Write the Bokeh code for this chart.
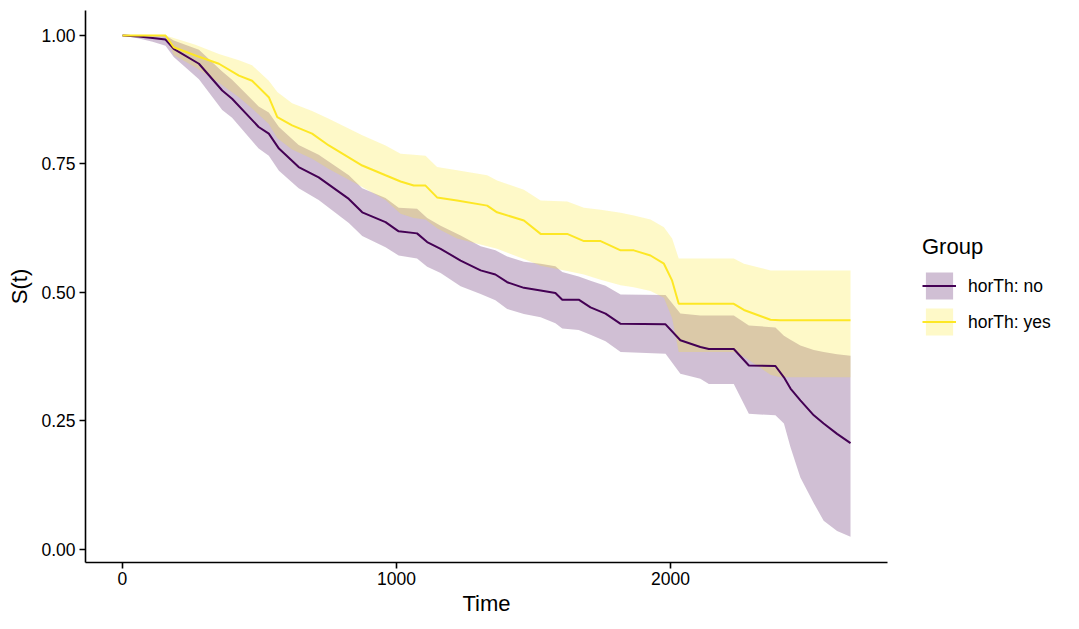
from bokeh.plotting import figure
from bokeh.models import Range1d, FixedTicker, Legend, LegendItem, NumeralTickFormatter
from bokeh.embed import file_html
from bokeh.resources import INLINE

# ---- data: group "horTh: no" ----
no_t = [0, 60, 110, 157, 187, 279, 364, 400, 497, 534, 571, 643, 716, 826, 875, 960, 1008,
        1075, 1112, 1161, 1234, 1307, 1361, 1404, 1465, 1526, 1580, 1605, 1665, 1708, 1763,
        1818, 1982, 2036, 2109, 2140, 2231, 2286, 2383, 2414, 2438, 2474, 2523, 2559, 2608, 2657]
no_s = [1.0, 0.998, 0.995, 0.992, 0.974, 0.945, 0.893, 0.877, 0.822, 0.809, 0.780, 0.744, 0.724,
        0.682, 0.656, 0.637, 0.619, 0.615, 0.598, 0.585, 0.562, 0.543, 0.535, 0.520, 0.509, 0.504,
        0.499, 0.486, 0.486, 0.471, 0.459, 0.439, 0.438, 0.407, 0.394, 0.390, 0.390, 0.358, 0.357,
        0.335, 0.313, 0.290, 0.261, 0.245, 0.225, 0.207]
no_lo = [1.0, 0.994, 0.988, 0.980, 0.958, 0.915, 0.855, 0.840, 0.780, 0.766, 0.737, 0.703, 0.680,
         0.635, 0.610, 0.588, 0.572, 0.566, 0.550, 0.538, 0.512, 0.497, 0.485, 0.468, 0.458, 0.452,
         0.440, 0.430, 0.427, 0.418, 0.405, 0.384, 0.381, 0.342, 0.332, 0.322, 0.322, 0.264, 0.261,
         0.245, 0.199, 0.140, 0.090, 0.056, 0.036, 0.025]
no_hi = [1.0, 1.0, 1.0, 1.0, 0.990, 0.972, 0.930, 0.914, 0.862, 0.850, 0.822, 0.787, 0.768,
         0.728, 0.703, 0.684, 0.665, 0.663, 0.645, 0.630, 0.611, 0.590, 0.582, 0.570, 0.560, 0.556,
         0.551, 0.540, 0.531, 0.523, 0.513, 0.496, 0.495, 0.459, 0.455, 0.455, 0.455, 0.436, 0.432,
         0.416, 0.408, 0.397, 0.388, 0.384, 0.380, 0.377]

# ---- data: group "horTh: yes" ----
yes_t = [0, 157, 187, 266, 352, 425, 473, 534, 565, 619, 692, 753, 875, 960, 1015, 1063, 1106,
         1148, 1221, 1331, 1367, 1465, 1526, 1623, 1684, 1745, 1818, 1866, 1927, 1976, 2006, 2030,
         2231, 2268, 2365, 2400, 2657]
yes_s = [1.0, 1.0, 0.977, 0.961, 0.945, 0.922, 0.912, 0.880, 0.841, 0.825, 0.809, 0.786, 0.747,
         0.728, 0.716, 0.708, 0.708, 0.685, 0.679, 0.669, 0.656, 0.640, 0.614, 0.614, 0.600, 0.600,
         0.582, 0.582, 0.572, 0.556, 0.523, 0.478, 0.478, 0.466, 0.447, 0.446, 0.446]
yes_lo = [1.0, 1.0, 0.962, 0.938, 0.908, 0.880, 0.858, 0.828, 0.800, 0.778, 0.760, 0.740, 0.705,
          0.680, 0.653, 0.645, 0.642, 0.625, 0.605, 0.590, 0.585, 0.565, 0.552, 0.542, 0.535, 0.525,
          0.514, 0.510, 0.503, 0.490, 0.450, 0.384, 0.384, 0.375, 0.340, 0.335, 0.335]
yes_hi = [1.0, 1.0, 0.995, 0.982, 0.964, 0.952, 0.942, 0.912, 0.890, 0.868, 0.853, 0.838, 0.806,
          0.786, 0.770, 0.768, 0.766, 0.744, 0.738, 0.728, 0.718, 0.700, 0.679, 0.677, 0.665, 0.661,
          0.655, 0.650, 0.642, 0.627, 0.605, 0.566, 0.566, 0.556, 0.543, 0.543, 0.543]

x_ticks = [0, 1000, 2000]
y_ticks = [0.0, 0.25, 0.5, 0.75, 1.0]
labels = ["horTh: no", "horTh: yes"]
colors = ["#440154", "#FDE725"]

FONT = "Liberation Sans"

p = figure(frame_width=802, frame_height=552, output_backend="svg", toolbar_location=None,
           x_range=Range1d(-135, 2792), y_range=Range1d(-0.0253, 1.0486),
           min_border_left=85, min_border_right=10, min_border_top=10, min_border_bottom=59)

p.xgrid.visible = False
p.ygrid.visible = False
p.outline_line_color = None
p.background_fill_color = "white"
p.border_fill_color = "white"

va_no = p.varea(x=no_t, y1=no_lo, y2=no_hi, fill_color=colors[0], fill_alpha=0.25)
va_yes = p.varea(x=yes_t, y1=yes_lo, y2=yes_hi, fill_color=colors[1], fill_alpha=0.25)
ln_no = p.line(x=no_t, y=no_s, line_color=colors[0], line_width=2)
ln_yes = p.line(x=yes_t, y=yes_s, line_color=colors[1], line_width=2)

for ax in (p.xaxis[0], p.yaxis[0]):
    ax.axis_line_color = "black"
    ax.axis_line_width = 1.6
    ax.major_tick_line_color = "black"
    ax.major_tick_line_width = 1.6
    ax.major_tick_out = 6
    ax.major_tick_in = 0
    ax.minor_tick_line_color = None
    ax.major_label_text_font = FONT
    ax.major_label_text_font_size = "17.5px"
    ax.major_label_text_color = "black"
    ax.axis_label_text_font = FONT
    ax.axis_label_text_font_size = "22px"
    ax.axis_label_text_font_style = "normal"
    ax.axis_label_text_color = "black"

p.xaxis.ticker = FixedTicker(ticks=x_ticks)
p.yaxis.ticker = FixedTicker(ticks=y_ticks)
p.yaxis.formatter = NumeralTickFormatter(format="0.00")
p.xaxis.axis_label = "Time"
p.yaxis.axis_label = "S(t)"
p.xaxis.major_label_standoff = 3
p.yaxis.major_label_standoff = 4
p.xaxis.axis_label_standoff = 3
p.yaxis.axis_label_standoff = 6

legend = Legend(items=[LegendItem(label=labels[0], renderers=[va_no, ln_no]),
                       LegendItem(label=labels[1], renderers=[va_yes, ln_yes])],
                title="Group", location="center_left")
legend.title_text_font = FONT
legend.title_text_font_size = "22px"
legend.title_text_font_style = "normal"
legend.title_text_color = "black"
legend.title_standoff = 9
legend.label_text_font = FONT
legend.label_text_font_size = "17.5px"
legend.label_text_color = "black"
legend.glyph_width = 34
legend.glyph_height = 34
legend.label_standoff = 12
legend.spacing = 2
legend.padding = 0
legend.margin = 35
legend.border_line_color = None
legend.background_fill_alpha = 0
p.add_layout(legend, "right")

open("out.html", "w").write(file_html(p, INLINE))
